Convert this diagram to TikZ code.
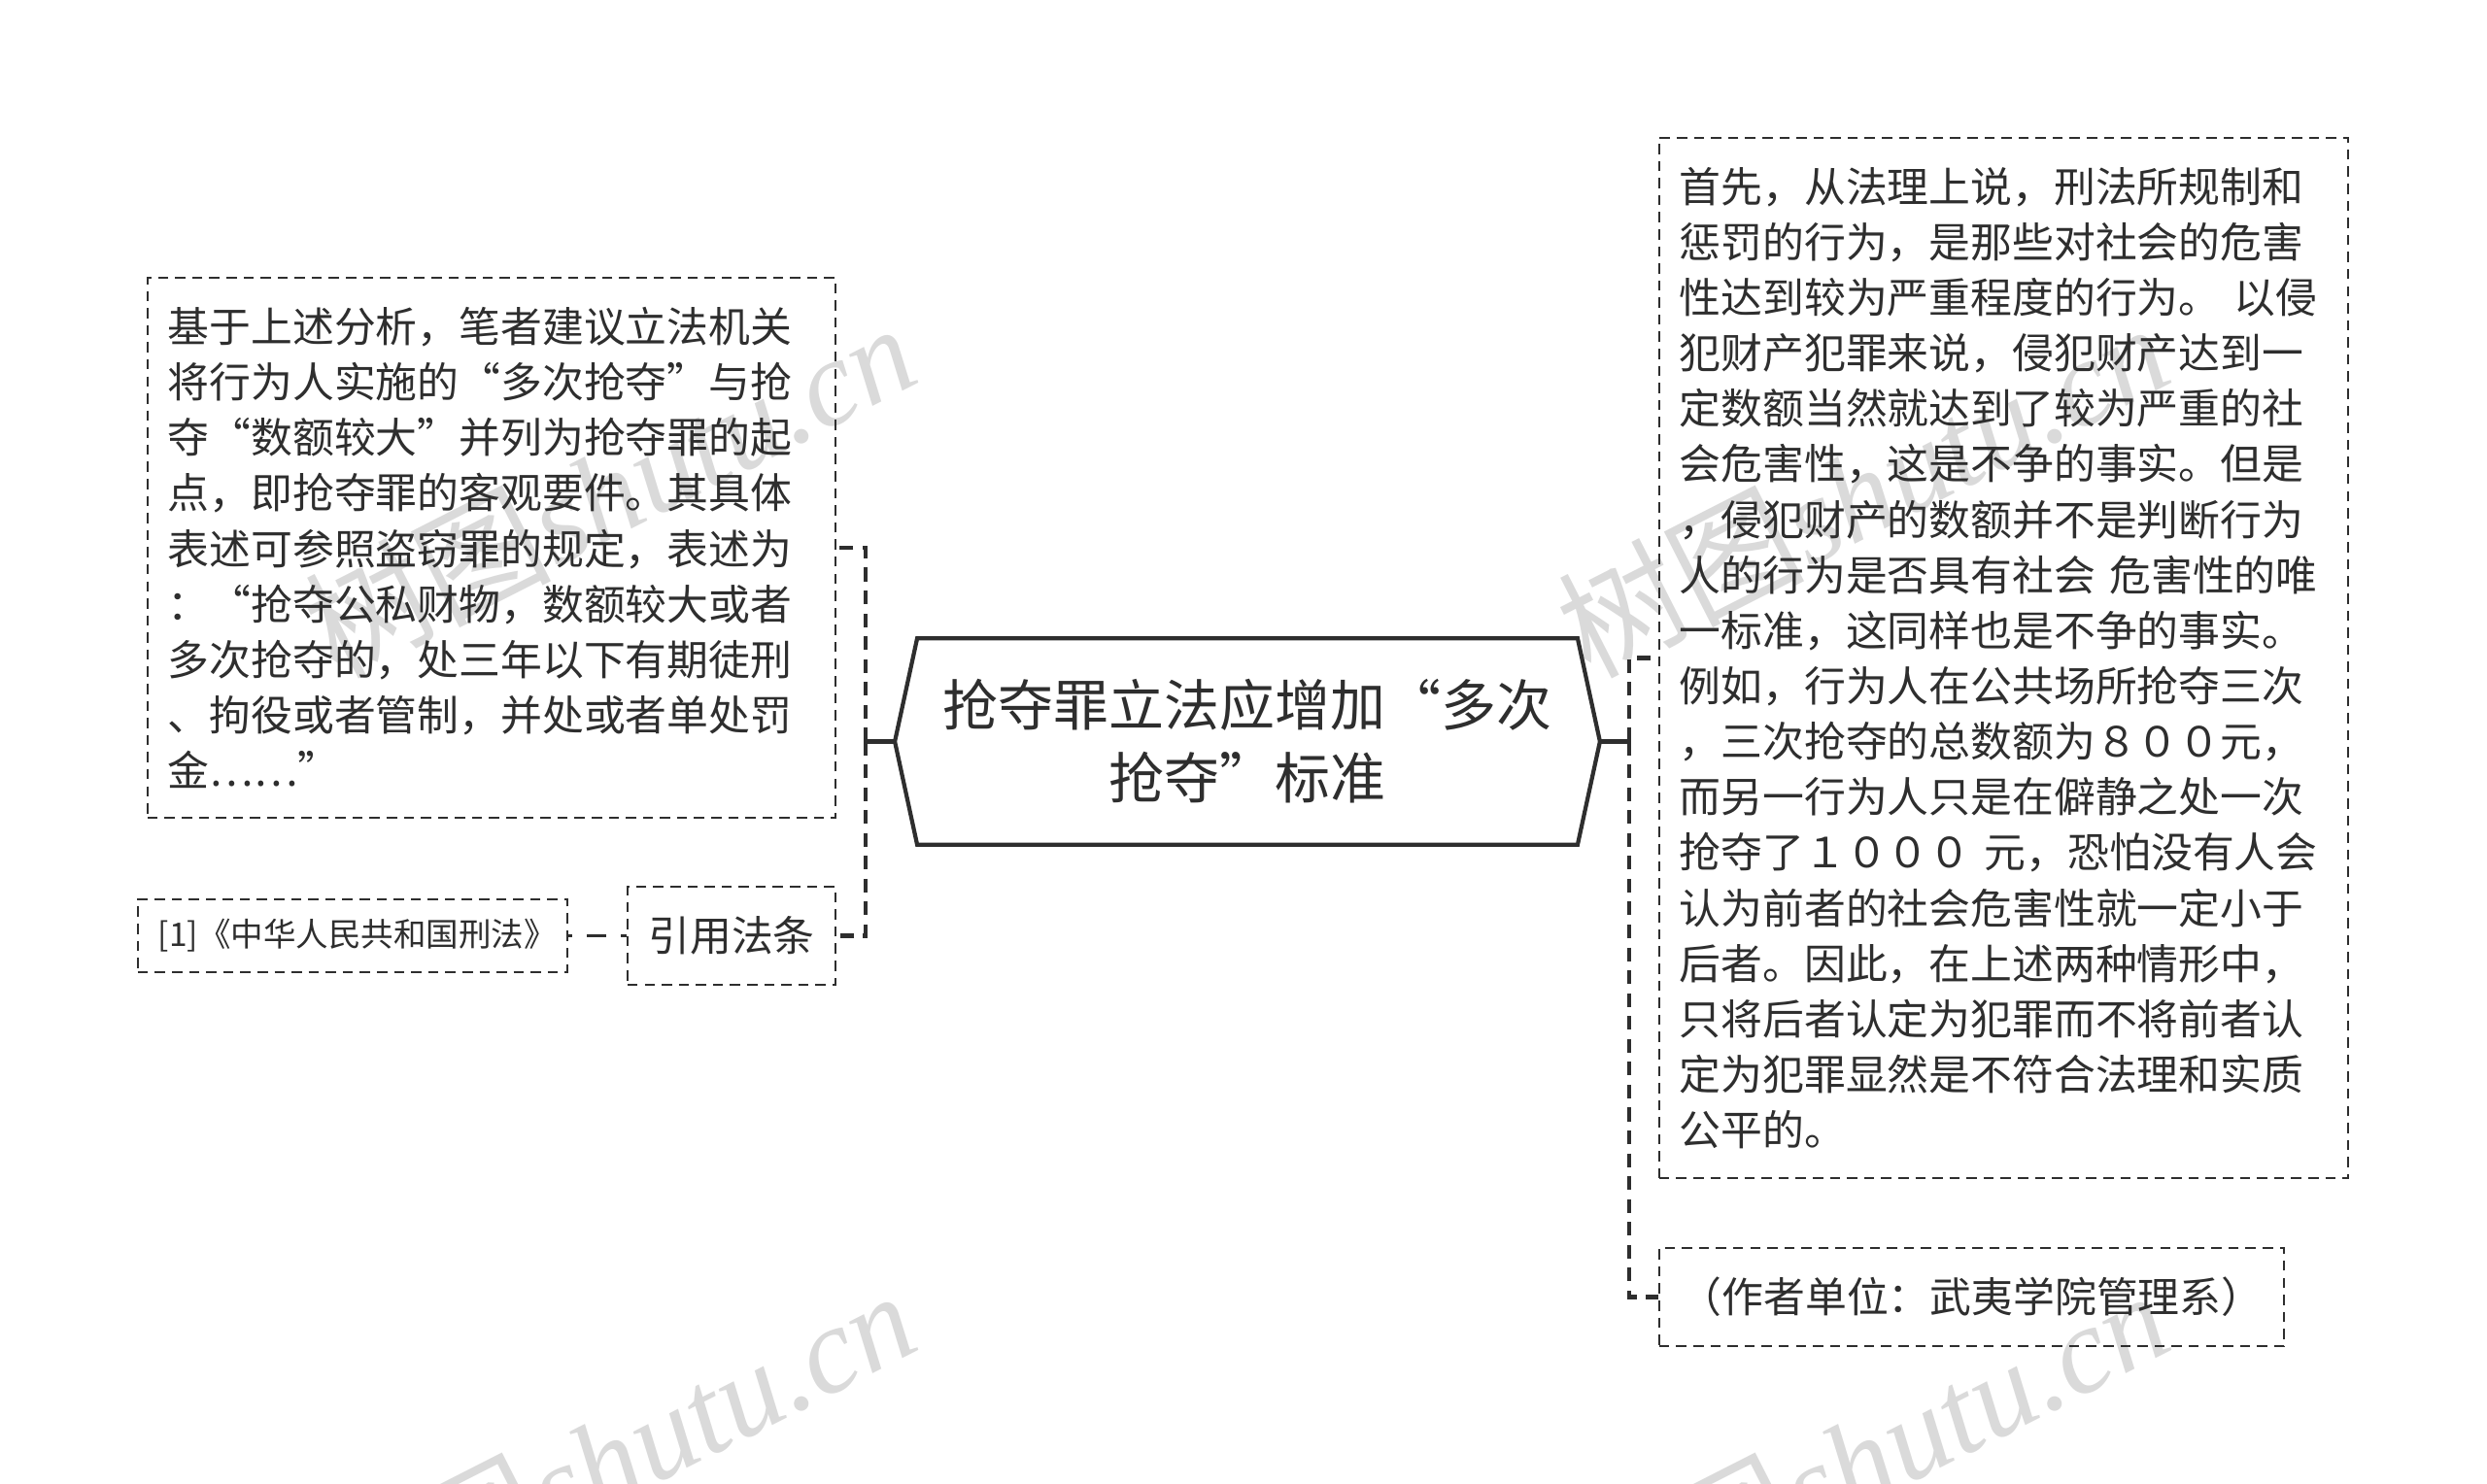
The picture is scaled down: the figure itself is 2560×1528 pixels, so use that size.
\documentclass[tikz,border=0pt]{standalone}
\usepackage{fontspec}
\usepackage{tikz}
\setmainfont{Noto Sans CJK SC}
\newfontfamily\markfont{Liberation Serif}
\definecolor{inkgray}{HTML}{2E2E2E}
\definecolor{markgray}{HTML}{DADADA}

\begin{document}
\begin{tikzpicture}[x=0.01cm,y=-0.01cm,
    notebox/.style={draw=inkgray,text=inkgray,line width=0.65pt,dash pattern=on 3pt off 2pt,
        inner xsep=0.21cm,inner ysep=0pt,align=left,font=\fontsize{12.18pt}{16.25pt}\selectfont},
    tagbox/.style={notebox,align=center,inner xsep=0pt},
    link/.style={draw=inkgray,line width=1.25pt,dash pattern=on 4pt off 2.7pt},
    twig/.style={draw=inkgray,line width=0.7pt,dash pattern=on 5.69pt off 4.27pt,dash phase=3.98pt},
    stub/.style={draw=inkgray,line width=1.2pt},
    watermark/.style={text=markgray,rotate=27,font=\fontsize{36pt}{36pt}\selectfont}]
    \useasboundingbox (0,0) rectangle (2560,1528);

    \node[watermark] (markA) at (627,503) {树图{\markfont\itshape shutu.cn}};
    \node[watermark] (markB) at (1917,503) {树图{\markfont\itshape shutu.cn}};
    \node[watermark] (markC) at (627,1499) {树图{\markfont\itshape shutu.cn}};
    \node[watermark] (markD) at (1917,1499) {树图{\markfont\itshape shutu.cn}};

    \node[text=inkgray,align=center,minimum width=7.24cm,minimum height=2.11cm,inner sep=0pt,
        font=\fontsize{16.2pt}{21.3pt}\selectfont] (root) at (1284,763.5)
        {抢夺罪立法应增加“多次\\抢夺”标准};
    \draw[stub]
        (root.west) -- ([xshift=0.23cm]root.north west) -- ([xshift=-0.23cm]root.north east)
        -- (root.east) -- ([xshift=-0.23cm]root.south east) -- ([xshift=0.23cm]root.south west) -- cycle;

    \node[notebox,text width=6.66cm,minimum height=5.56cm] (advice) at (506,564)
        {基于上述分析，笔者建议立法机关\\将行为人实施的“多次抢夺”与抢\\夺“数额较大”并列为抢夺罪的起\\点，即抢夺罪的客观要件。其具体\\表述可参照盗窃罪的规定，表述为\\：“抢夺公私财物，数额较大或者\\多次抢夺的，处三年以下有期徒刑\\、拘役或者管制，并处或者单处罚\\金……”};
    \node[tagbox,minimum width=2.14cm,minimum height=1.01cm] (cite) at (753,963.5) {引用法条};
    \node[notebox,text width=4cm,minimum height=0.75cm,
        font=\fontsize{9.53pt}{12pt}\selectfont] (law) at (363,963.5) {[1]《中华人民共和国刑法》};

    \node[notebox,text width=6.67cm,minimum height=10.71cm] (reason) at (2062.5,677.5)
        {首先，从法理上说，刑法所规制和\\惩罚的行为，是那些对社会的危害\\性达到较为严重程度的行为。 以侵\\犯财产犯罪来说，侵犯财产达到一\\定数额当然就达到了较为严重的社\\会危害性，这是不争的事实。但是\\，侵犯财产的数额并不是判断行为\\人的行为是否具有社会 危害性的唯\\一标准，这同样也是不争的事实。\\例如，行为人在公共场所抢夺三次\\，三次抢夺的总数额为８００元，\\而另一行为人只是在僻静之处一次\\抢夺了１０００ 元，恐怕没有人会\\认为前者的社会危害性就一定小于\\后者。因此，在上述两种情形中，\\只将后者认定为犯罪而不将前者认\\定为犯罪显然是不符合法理和实质\\公平的。};
    \node[tagbox,minimum width=6.43cm,minimum height=1.01cm] (unit) at (2029.5,1335.5)
        {（作者单位：武夷学院管理系）};

    \coordinate (busL) at (891,763.5);
    \coordinate (busR) at (1677,763.5);
    \draw[stub] (root.west) -- (busL);
    \draw[stub] (root.east) -- (busR);
    \draw[link] (busL) |- (advice.east);
    \draw[link] (busL) |- (cite.east);
    \draw[link] (busR) |- (reason.west);
    \draw[link] (busR) |- (unit.west);
    \draw[twig] (cite.west) -- (law.east);
\end{tikzpicture}
\end{document}
